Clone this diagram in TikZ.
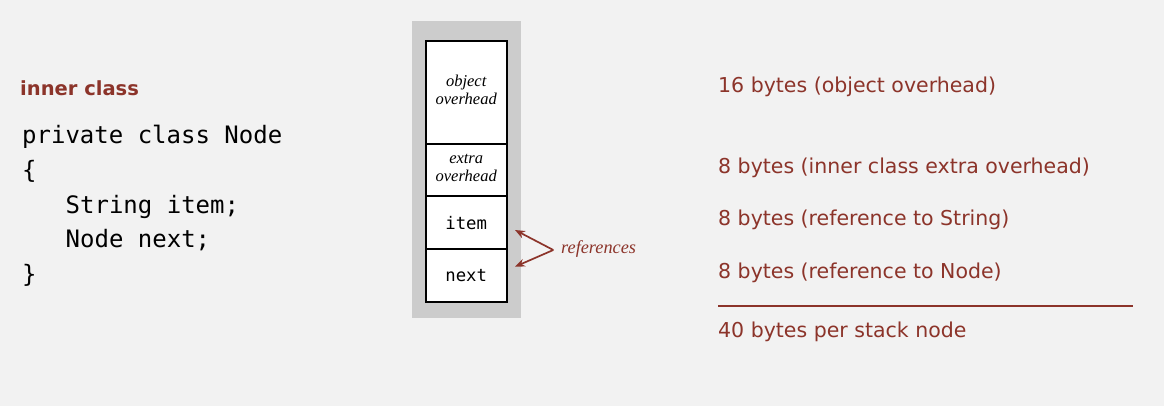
\documentclass[tikz,border=0pt]{standalone}
\usepackage{fontspec}
\setmainfont{Liberation Serif}
\setsansfont{DejaVu Sans}
\setmonofont{DejaVu Sans Mono}
\usetikzlibrary{arrows.meta}
\definecolor{bg}{RGB}{242,242,242}
\definecolor{frame}{RGB}{204,204,204}
\definecolor{brick}{RGB}{140,52,42}
\tikzset{
  cell/.style={draw=black, line width=1.9pt, fill=white, minimum width=81pt, inner sep=0pt, align=center},
  lbl/.style={font=\fontsize{16.5}{19}\selectfont\rmfamily\itshape},
  fld/.style={font=\fontsize{17.3}{20}\selectfont\ttfamily},
  code/.style={anchor=base west, inner sep=0pt, font=\fontsize{24}{28}\selectfont\ttfamily},
  note/.style={anchor=base west, inner sep=0pt, text=brick, font=\fontsize{20.5}{24}\selectfont\sffamily},
  refarrow/.style={draw=brick, line width=1.7pt, -{Stealth[length=10pt,width=8pt]}},
}
\begin{document}
\begin{tikzpicture}[x=1pt,y=-1pt]
\fill[bg] (0,0) rectangle (1164,406);
\useasboundingbox (0,0) rectangle (1164,406);
% left: code
\node[anchor=base west, inner sep=0pt, text=brick, font=\fontsize{19.5}{23}\selectfont\sffamily\bfseries] (title) at (20,95.5) {inner class};
\node[code] (c1) at (22,143.4) {private class Node};
\node[code] (c2) at (22,178.2) {\{};
\node[code] (c3) at (65.5,213) {String item;};
\node[code] (c4) at (65.5,247.8) {Node next;};
\node[code] (c5) at (22,282.6) {\}};
% middle: memory layout
\node[fill=frame, minimum width=109pt, minimum height=297pt, inner sep=0pt] (mem) at (466.5,169.5) {};
\node[cell, minimum height=103.6pt] (obj) at (466.2,92.5) {};
\node[lbl, anchor=base] (objt1) at (466.2,86.7) {object};
\node[lbl, anchor=base] (objt2) at (466.2,105) {overhead};
\node[cell, minimum height=51.7pt] (extra) at (466.2,170.2) {};
\node[lbl, anchor=base] (ext1) at (466.2,163.3) {extra};
\node[lbl, anchor=base] (ext2) at (466.2,181.7) {overhead};
\node[cell, minimum height=53.3pt, fld] (item) at (466.2,222.7) {item};
\node[cell, minimum height=53pt, fld] (next) at (466.2,275.8) {next};
% references
\node[anchor=base west, inner sep=0pt, text=brick, font=\fontsize{18.3}{21}\selectfont\rmfamily\itshape] (refs) at (561,253.3) {references};
\coordinate (fork) at (553.3,250);
\coordinate (tipitem) at (515,230);
\coordinate (tipnext) at (515,266.7);
\draw[refarrow] (fork) -- (tipitem);
\draw[refarrow] (fork) -- (tipnext);
% right: sizes
\node[note] (n1) at (718,92.3) {16 bytes (object overhead)};
\node[note] (n2) at (718,173.3) {8 bytes (inner class extra overhead)};
\node[note] (n3) at (718,225.7) {8 bytes (reference to String)};
\node[note] (n4) at (718,278.3) {8 bytes (reference to Node)};
\coordinate (rulel) at (718,306);
\coordinate (ruler) at (1133,306);
\draw[brick, line width=2pt] (rulel) -- (ruler);
\node[note] (n5) at (718,337.3) {40 bytes per stack node};
\end{tikzpicture}
\end{document}
